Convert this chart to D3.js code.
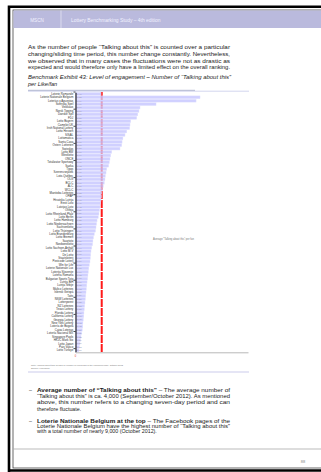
<!DOCTYPE html>
<html><head><meta charset="utf-8">
<script src="https://cdn.jsdelivr.net/npm/d3@7"></script>
<style>html,body{margin:0;padding:0;background:#fff;}svg{display:block;}</style>
</head><body>
<script>
const categories = ["Loterie Romande","Loterie Nationale Belgium","Loterías y Apuestas","Svenska Spel","Veikkaus","Norsk Tipping","Danske Spil","FDJ","Lotto Bayern","Camelot UK","Irish National Lottery","Lotto Hessen","SISAL","Lottomatica","Santa Casa","Österr. Lotterien","Swisslos","Lotto BW","Westlotto","ONCE","Totalizator Sportowy","Sazka","Tipos","Szerencsejáték","Loto-Québec","OLG","BCLC","ALC","WCLC","Manitoba Lotteries","OPAP","Hrvatska Lutrija","Eesti Loto","Latvijas Loto","Olifėja","Lotto Rheinland-Pfalz","Lotto Berlin","Lotto Hamburg","Lotto Niedersachsen","Sachsenlotto","Lotto Thüringen","Lotto Brandenburg","Lotto Bremen","Saartoto","Nordwestlotto","Lotto Sachsen-Anhalt","Lotto M-V","De Lotto","Staatsloterij","Postcode Loterij","Win for Life","Loterie Nationale Lux","Loterija Slovenije","Loteria Romana","Bulgarian Sports Toto","Lutrija BiH","Lutrija Srbije","Maltco Lotteries","Islensk Getspá","Tatts","NSW Lotteries","Lotterywest","NZ Lotteries","Texas Lottery","Florida Lottery","California Lottery","Georgia Lottery","New York Lottery","Lotería de Bogotá","Caixa Loterias","Lotería Nacional MX","Singapore Pools","HKJC Mark Six","Lotto Japan","Pais Vasco","Lotto Türkiye"];
const values = [1.48,7.22,6.99,4.67,3.74,3.68,3.61,3.55,3.20,3.16,3.14,2.97,2.87,2.75,2.70,2.68,2.58,2.10,2.04,2.00,1.96,1.92,1.81,1.77,1.73,1.71,1.67,1.61,1.57,1.52,1.51,1.48,1.46,1.42,1.39,1.36,1.32,1.25,1.22,1.19,1.16,1.09,1.04,1.01,0.99,0.94,0.90,0.88,0.86,0.84,0.80,0.77,0.74,0.72,0.70,0.67,0.65,0.63,0.61,0.59,0.57,0.55,0.53,0.51,0.49,0.48,0.45,0.43,0.42,0.39,0.35,0.32,0.29,0.26,0.23,0.20];
const averageValue = 1.52;
const xDomain = [0, 10];

const headerLeft = "MSCN";
const headerTitle = "Lottery Benchmarking Study – 4th edition";
const paragraphLines = [
 "As the number of people \u201CTalking about this\u201D is counted over a particular",
 "changing/sliding time period, this number change constantly. Nevertheless,",
 "we observed that in many cases the fluctuations were not as drastic as",
 "expected and would therefore only have a limited effect on the overall ranking."];
const captionLines = [
 "Benchmark Exhibit 43: Level of engagement – Number of \u201CTalking about this\u201D",
 "per Like/fan"];
const footnoteLines = [
 "Note: \u201CTalking about this\u201D divided by number of Likes/fans of the Facebook page, October 2012",
 "Source: Facebook"];
const legendText = "Average \u201CTalking about this\u201D per fan";
const bullet1Head = "Average number of \u201CTalking about this\u201D";
const bullet1Lines = [
 " – The average number of",
 "\u201CTalking about this\u201D is ca. 4,000 (September/October 2012). As mentioned",
 "above, this number refers to a changing seven-day period and can",
 "therefore fluctuate."];
const bullet2Head = "Loterie Nationale Belgium at the top";
const bullet2Lines = [
 " – The Facebook pages of the",
 "Loterie Nationale Belgium have the highest number of \u201CTalking about this\u201D",
 "with a total number of nearly 9,000 (October 2012)."];
const pageNumber = "88";

const W = 321, H = 472;
const svg = d3.select("body").append("svg").attr("width", W).attr("height", H)
  .style("font-family", "'Liberation Sans', Arial, sans-serif");

// page frame
svg.append("rect").attr("x", 13).attr("y", 10).attr("width", 320).attr("height", 458)
  .attr("fill", "none").attr("stroke", "#444").attr("stroke-width", 0.8);
svg.append("path").attr("d", "M9,480 L9,6.8 L330,6.8").attr("fill", "none")
  .attr("stroke", "#000").attr("stroke-width", 2.6);
svg.append("line").attr("x1", 9).attr("x2", 330).attr("y1", 470.5).attr("y2", 470.5)
  .attr("stroke", "#000").attr("stroke-width", 2.4);

// header band
svg.append("rect").attr("x", 13.5).attr("y", 10.5).attr("width", 310).attr("height", 17.5)
  .attr("fill", "#babadd");
svg.append("line").attr("x1", 61).attr("x2", 61).attr("y1", 10.5).attr("y2", 28)
  .attr("stroke", "#e4e4f4").attr("stroke-width", 0.8);
svg.append("text").attr("x", 37).attr("y", 21.6).attr("text-anchor", "middle")
  .attr("font-size", 4.6).attr("fill", "#f2f2ff").text(headerLeft);
svg.append("text").attr("x", 71).attr("y", 21.6).attr("font-size", 4.9)
  .attr("fill", "#f2f2ff").text(headerTitle);

// paragraph
const paraY = [46.7, 53.7, 60.5, 67.3];
paragraphLines.forEach((t, i) => {
  svg.append("text").attr("x", 28).attr("y", paraY[i] + 2).attr("font-size", 5.6)
    .attr("fill", "#222").attr("textLength", 202).attr("lengthAdjust", "spacingAndGlyphs").text(t);
});
// caption
svg.append("text").attr("x", 28).attr("y", 79.3).attr("font-size", 5.6).attr("font-style", "italic")
  .attr("fill", "#222").attr("textLength", 203).attr("lengthAdjust", "spacingAndGlyphs").text(captionLines[0]);
svg.append("text").attr("x", 28).attr("y", 86).attr("font-size", 5.6).attr("font-style", "italic")
  .attr("fill", "#222").text(captionLines[1]);

// rules above chart
svg.append("line").attr("x1", 28).attr("x2", 249).attr("y1", 91.2).attr("y2", 91.2)
  .attr("stroke", "#d2d6ee").attr("stroke-width", 1);
svg.append("line").attr("x1", 28).attr("x2", 195).attr("y1", 90.3).attr("y2", 90.3)
  .attr("stroke", "#aab0cc").attr("stroke-width", 0.9);

// chart
const x = d3.scaleLinear().domain(xDomain).range([75.5, 248]);
const y = d3.scaleBand().domain(categories).range([92.3, 352]).paddingInner(0.18).paddingOuter(0.05);

// average line (behind translucent bars)
svg.append("line").attr("x1", x(averageValue)).attr("x2", x(averageValue))
  .attr("y1", 92).attr("y2", 352).attr("stroke", "#ff1a1a").attr("stroke-width", 2)
  .attr("stroke-dasharray", "8,1");

svg.append("g").selectAll("rect").data(categories).join("rect")
  .attr("x", x(0)).attr("y", d => y(d))
  .attr("width", (d, i) => x(values[i]) - x(0)).attr("height", y.bandwidth())
  .attr("fill", "#c6c6ff").attr("fill-opacity", 0.82)
  .attr("stroke", "#e2e2ff").attr("stroke-width", 0.4);

// value labels
svg.append("g").selectAll("text").data(categories).join("text")
  .attr("x", x(0) + 1.5).attr("y", d => y(d) + y.bandwidth() / 2 + 0.8)
  .attr("font-size", 2.4).attr("fill", "#9a9ab0")
  .text((d, i) => values[i].toFixed(2).replace(".", ","));

// y axis
const yAxis = d3.axisLeft(y).tickSize(0).tickPadding(2.2);
const gy = svg.append("g").attr("transform", `translate(${x(0)},0)`).call(yAxis);
gy.select(".domain").attr("stroke", "#000").attr("stroke-width", 1);
gy.selectAll("text").attr("font-size", 2.9).attr("fill", "#333")
  .attr("font-family", "'Liberation Sans', Arial, sans-serif");
svg.append("g").selectAll("line").data(categories.filter((d, i) => i % 5 === 0)).join("line")
  .attr("x1", x(0) - 2).attr("x2", x(0)).attr("y1", d => y(d) - 0.4).attr("y2", d => y(d) - 0.4)
  .attr("stroke", "#000").attr("stroke-width", 0.7);

// x axis
const xAxis = d3.axisBottom(x).tickValues([]).tickSizeOuter(0);
const gx = svg.append("g").attr("transform", "translate(0,352.3)").call(xAxis);
gx.select(".domain").attr("stroke", "#b8b8b8").attr("stroke-width", 1);
svg.append("text").attr("x", x(0)).attr("y", 357).attr("text-anchor", "middle")
  .attr("font-size", 2.6).attr("fill", "#e03030").text("0");

// legend-like note
svg.append("text").attr("x", 153).attr("y", 240).attr("font-size", 2.6).attr("fill", "#777")
  .text(legendText);

// footnotes
svg.append("text").attr("x", 31).attr("y", 365.8).attr("font-size", 2.3).attr("fill", "#777")
  .attr("textLength", 92).attr("lengthAdjust", "spacingAndGlyphs").text(footnoteLines[0]);
svg.append("text").attr("x", 31).attr("y", 369).attr("font-size", 2.3).attr("fill", "#777")
  .text(footnoteLines[1]);
svg.append("line").attr("x1", 28).attr("x2", 249).attr("y1", 372).attr("y2", 372)
  .attr("stroke", "#dcdcf2").attr("stroke-width", 1.5);

// bullets
function bullet(head, lines, ys) {
  svg.append("text").attr("x", 29).attr("y", ys[0] + 1.9).attr("font-size", 5.3).attr("fill", "#222").text("–");
  const t0 = svg.append("text").attr("x", 37).attr("y", ys[0] + 1.9).attr("font-size", 5.3)
    .attr("fill", "#222").attr("textLength", 193).attr("lengthAdjust", "spacingAndGlyphs");
  t0.append("tspan").attr("font-weight", "bold").text(head);
  t0.append("tspan").text(lines[0]);
  lines.slice(1).forEach((l, i) => {
    const tt = svg.append("text").attr("x", 37).attr("y", ys[i + 1] + 1.9).attr("font-size", 5.3)
      .attr("fill", "#222").text(l);
    if (i < lines.length - 2) tt.attr("textLength", 193).attr("lengthAdjust", "spacingAndGlyphs");
  });
}
bullet(bullet1Head, bullet1Lines, [389.6, 396, 402.4, 408.8]);
bullet(bullet2Head, bullet2Lines, [420.6, 425.9, 431.2]);

// footer
svg.append("line").attr("x1", 13).attr("x2", 321).attr("y1", 449).attr("y2", 449)
  .attr("stroke", "#aaa").attr("stroke-width", 0.8);
svg.append("text").attr("x", 303).attr("y", 463).attr("text-anchor", "middle")
  .attr("font-size", 4).attr("fill", "#888").text(pageNumber);
</script>
</body></html>
